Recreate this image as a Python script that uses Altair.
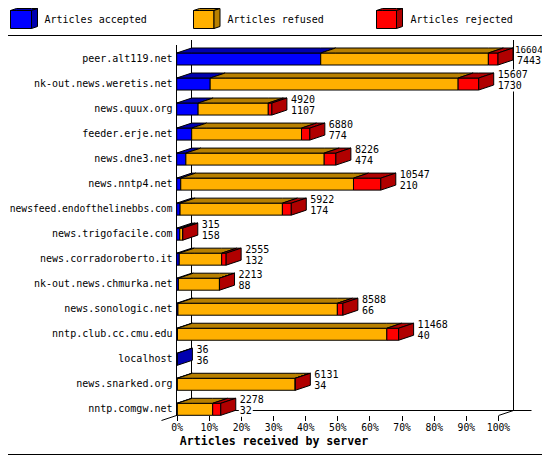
import altair as alt
import pandas as pd

servers = ["peer.alt119.net", "nk-out.news.weretis.net", "news.quux.org", "feeder.erje.net",
           "news.dne3.net", "news.nntp4.net", "newsfeed.endofthelinebbs.com", "news.trigofacile.com",
           "news.corradoroberto.it", "nk-out.news.chmurka.net", "news.sonologic.net",
           "nntp.club.cc.cmu.edu", "localhost", "news.snarked.org", "nntp.comgw.net"]
received = [16604, 15607, 4920, 6880, 8226, 10547, 5922, 315, 2555, 2213, 8588, 11468, 36, 6131, 2278]
accepted = [7443, 1730, 1107, 774, 474, 210, 174, 158, 132, 88, 66, 40, 36, 34, 32]
rejected = [498, 1063, 188, 430, 604, 1411, 460, 3, 231, 5, 286, 609, 0, 8, 418]
tick_values = [0, 10, 20, 30, 40, 50, 60, 70, 80, 90, 100]
legend_names = ["Articles accepted", "Articles refused", "Articles rejected"]
front_colors = ["#0000ff", "#ffb000", "#ff0000"]
dark_colors = ["#0000b0", "#b88000", "#b00000"]

FONT = "DejaVu Sans Mono"
W, H = 534, 447
X0, X100 = 168.7, 490.0      # pixel range of 0..100 %
Y0, Y14 = 51.0, 401.3        # pixel range of rows 0..14
PX = (X100 - X0) / 100
PY = (Y14 - Y0) / 14
xs = alt.Scale(domain=[0, 100], range=[X0, X100], nice=False, zero=False)
ys = alt.Scale(domain=[0, 14], range=[Y0, Y14], nice=False, zero=False)
x_axis = alt.Axis(values=tick_values, orient="bottom", offset=-39.5, domain=False, grid=False, tickSize=5,
                  tickColor="black", tickWidth=1, labelExpr="datum.value + '%'", labelFont=FONT,
                  labelFontSize=9.7, labelColor="black", labelPadding=2, labelOverlap=False,
                  labelFlush=False, labelAlign="center", title=None)


def dx(p):   # page pixel x to data
    return (p - 8 - X0) / PX


def dy(p):   # page pixel y to data
    return (p - 8 - Y0) / PY


DEPTH_X = 15 / PX
DEPTH_Y = 5 / PY
HALF = 6 / PY
faces = []
fid = [0]


def add_face(points, fill):
    fid[0] += 1
    for x, y, y2 in points:
        faces.append({"x": x, "y": y, "y2": y2, "fill": fill, "id": f"{fid[0]:05d}"})


def cuboid(parts, top, bottom, ddx, ddy):
    """parts: list of (x0, x1, colour index); top and bottom of the front face."""
    for x0, x1, c in parts:
        add_face([(x0, top, bottom), (x1, top, bottom)], front_colors[c])
    for x0, x1, c in parts:
        stops = sorted({x0, x1, x0 + ddx, x1 + ddx})
        pts = []
        for s in stops:
            upper = top - ddy * min(1, (s - x0) / ddx)
            lower = top - ddy * max(0, (s - x1) / ddx)
            pts.append((s, upper, lower))
        add_face(pts, dark_colors[c])
    x1, c = parts[-1][1], parts[-1][2]
    add_face([(x1, top, bottom), (x1 + ddx, top - ddy, bottom - ddy)], dark_colors[c])


labels = []
backs = []
maxv = max(received)
for i, total in enumerate(received):
    a = accepted[i] / maxv * 100
    t = total / maxv * 100
    r = rejected[i] / maxv * 100
    parts = [(0, a, 0)]
    if t - r > a:
        parts.append((a, t - r, 1))
    if r > 0:
        parts.append((t - r, t, 2))
    cuboid(parts, i - HALF, i + HALF, DEPTH_X, DEPTH_Y)
    lx = t + (15 + 4) / PX
    for txt, off in ((str(total), -9), (str(accepted[i]), 2)):
        # the one label that would run past the drawable width is set a little tighter
        wide = lx + len(txt) * 6 / PX > dx(542)
        labels.append({"x": lx - (2 / PX if wide else 0), "y": i + off / PY, "t": txt, "s": 9.2 if wide else 10})
        backs.append({"x": lx - 1 / PX, "x2": lx + (len(txt) * 6 + 1) / PX,
                      "y": i + (off - 5.5) / PY, "y2": i + (off + 5.5) / PY})

# legend swatches
for name, (l, r, c) in zip(legend_names, [(10.5, 31.5, 0), (193.5, 214, 1), (376.5, 396.5, 2)]):
    cuboid([(dx(l), dx(r), c)], dy(10.5), dy(28.5), 6 / PX, 2 / PY)

face_df = pd.DataFrame(faces)
face_layer = alt.Chart(face_df).mark_area(stroke="black", strokeWidth=1, orient="vertical",
                                          interpolate="linear", clip=False).encode(
    x=alt.X("x:Q", scale=xs, axis=x_axis),
    y=alt.Y("y:Q", scale=ys, axis=None),
    y2="y2:Q",
    fill=alt.Fill("fill:N", scale=None),
    detail="id:N",
    order="id:N",
)

# separator, bottom edge, walls and floor
segs = [
    [(8, 35.5), (542, 35.5)],
    [(8, 454.5), (542, 454.5)],
    [(176.5, 45), (176.5, 416)],
    [(191.5, 40), (191.5, 411)],
    [(513.5, 40), (513.5, 411)],
    [(191.5, 410.5), (531.5, 410.5)],
    [(161.5, 420.5), (191.5, 410.5)],
    [(498.5, 415.5), (513.5, 410.5)],
]
wall_rows = []
for k, seg in enumerate(segs):
    for n, (px, py) in enumerate(seg):
        wall_rows.append({"x": dx(px), "y": dy(py), "k": k, "n": n})
wall_layer = alt.Chart(pd.DataFrame(wall_rows)).mark_line(color="black", strokeWidth=1, clip=False).encode(
    x=alt.X("x:Q", scale=xs, axis=x_axis),
    y=alt.Y("y:Q", scale=ys, axis=None),
    detail="k:N",
    order="n:Q",
)

back_layer = alt.Chart(pd.DataFrame(backs)).mark_rect(color="white", clip=False).encode(
    x=alt.X("x:Q", scale=xs, axis=x_axis), x2="x2:Q",
    y=alt.Y("y:Q", scale=ys, axis=None), y2="y2:Q",
)
val_layer = alt.Chart(pd.DataFrame(labels)).mark_text(align="left", baseline="middle", font=FONT,
                                                      color="black").encode(
    x=alt.X("x:Q", scale=xs, axis=x_axis),
    y=alt.Y("y:Q", scale=ys, axis=None),
    text="t:N",
    size=alt.Size("s:Q", scale=None, legend=None),
)
srv_sizes = [min(10, 163.0 / (len(s) * 0.602)) for s in servers]
srv_layer = alt.Chart(pd.DataFrame({"r": list(range(len(servers))), "t": servers, "s": srv_sizes,
                                    "x": [dx(172.5)] * len(servers)})).mark_text(
    align="right", baseline="middle", font=FONT, color="black").encode(
    x=alt.X("x:Q", scale=xs, axis=x_axis),
    y=alt.Y("r:Q", scale=ys, axis=None),
    text="t:N",
    size=alt.Size("s:Q", scale=None, legend=None),
)
leg_layer = alt.Chart(pd.DataFrame({"t": legend_names, "x": [dx(44.5), dx(227.5), dx(410.5)],
                                    "y": [dy(20)] * 3})).mark_text(
    align="left", baseline="middle", font=FONT, fontSize=10, color="black").encode(
    x=alt.X("x:Q", scale=xs, axis=x_axis),
    y=alt.Y("y:Q", scale=ys, axis=None),
    text="t:N",
)
title_layer = alt.Chart(pd.DataFrame({"t": ["Articles received by server"], "x": [dx(274)],
                                      "y": [dy(441.5)]})).mark_text(
    align="center", baseline="middle", font=FONT, fontSize=11.6, fontWeight="bold", color="black").encode(
    x=alt.X("x:Q", scale=xs, axis=x_axis),
    y=alt.Y("y:Q", scale=ys, axis=None),
    text="t:N",
)

chart = alt.layer(wall_layer, face_layer, back_layer, val_layer, srv_layer, leg_layer, title_layer).properties(
    width=W, height=H, padding=0, autosize=alt.AutoSizeParams(type="none"), background="white",
).configure_view(stroke=None)

chart.save("out.html", embed_options={"renderer": "svg", "actions": False})
